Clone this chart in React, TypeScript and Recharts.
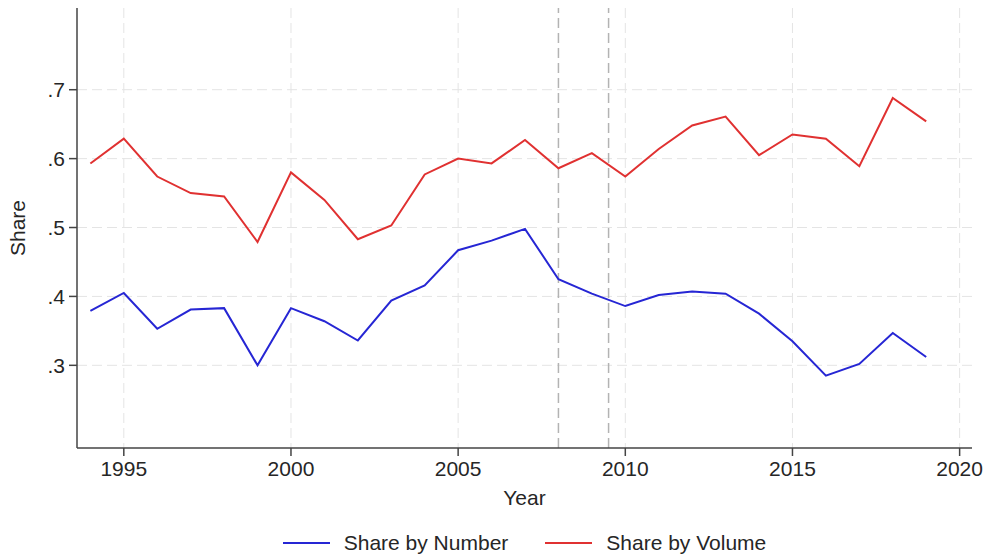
import React from 'react';
import { LineChart, Line, XAxis, YAxis, CartesianGrid, ReferenceLine, Legend } from 'recharts';

const years = [1994, 1995, 1996, 1997, 1998, 1999, 2000, 2001, 2002, 2003, 2004, 2005, 2006, 2007, 2008, 2009, 2010, 2011, 2012, 2013, 2014, 2015, 2016, 2017, 2018, 2019];
const shareByNumber = [0.379, 0.405, 0.353, 0.381, 0.383, 0.300, 0.383, 0.364, 0.336, 0.394, 0.416, 0.467, 0.481, 0.498, 0.425, 0.404, 0.386, 0.402, 0.407, 0.404, 0.375, 0.335, 0.285, 0.302, 0.347, 0.312];
const shareByVolume = [0.593, 0.629, 0.574, 0.550, 0.545, 0.479, 0.580, 0.540, 0.483, 0.503, 0.577, 0.600, 0.593, 0.627, 0.586, 0.608, 0.574, 0.614, 0.648, 0.661, 0.605, 0.635, 0.629, 0.589, 0.688, 0.654];
const xTicks = [1995, 2000, 2005, 2010, 2015, 2020];
const yTicks = [0.3, 0.4, 0.5, 0.6, 0.7];
const refYears = [2008, 2009.5];
const seriesNames = ['Share by Number', 'Share by Volume'];

const BLUE = '#2626d4';
const RED = '#e03131';
const FONT = '"Liberation Sans", Arial, Helvetica, sans-serif';
const TEXT = '#262626';
const FS = 21;

const data = years.map((y, i) => ({ year: y, number: shareByNumber[i], volume: shareByVolume[i] }));

const legendItems = [
  { name: seriesNames[0], color: BLUE },
  { name: seriesNames[1], color: RED },
];

function LegendContent() {
  return (
    <div style={{ display: 'flex', justifyContent: 'center', alignItems: 'center', fontFamily: FONT, fontSize: FS, color: TEXT, gap: 37, height: 24 }}>
      {legendItems.map((it) => (
        <div key={it.name} style={{ display: 'flex', alignItems: 'center' }}>
          <svg width={47} height={6} style={{ marginRight: 14 }}>
            <line x1={0} y1={3} x2={47} y2={3} stroke={it.color} strokeWidth={2} />
          </svg>
          <span>{it.name}</span>
        </div>
      ))}
    </div>
  );
}

export default function App() {
  return (
    <div style={{ position: 'absolute', left: 0, top: 0, width: 985, height: 557, background: '#fff' }}>
      <LineChart width={985} height={557} data={data} margin={{ top: 8, right: 13, bottom: 0, left: 0 }}>
        <CartesianGrid stroke="#e4e4e4" strokeDasharray="10 5" horizontalValues={yTicks} verticalValues={xTicks} />
        <XAxis
          dataKey="year"
          type="number"
          domain={[1993.6, 2020.37]}
          ticks={xTicks}
          allowDataOverflow
          height={109}
          tickSize={8}
          tickMargin={5}
          stroke="#444"
          strokeWidth={1.5}
          tick={{ fill: TEXT, fontSize: FS, fontFamily: FONT }}
          label={(props: any) => {
            const vb = props.viewBox;
            return (
              <text x={vb.x + vb.width / 2} y={vb.y + 57} textAnchor="middle" fill={TEXT} fontSize={FS} fontFamily={FONT}>
                Year
              </text>
            );
          }}
        />
        <YAxis
          type="number"
          domain={[0.18, 0.8186]}
          ticks={yTicks}
          allowDataOverflow
          width={77}
          tickSize={8}
          tickMargin={4}
          stroke="#444"
          strokeWidth={1.5}
          tickFormatter={(v: number) => v.toFixed(1).replace(/^0/, '')}
          tick={{ fill: TEXT, fontSize: FS, fontFamily: FONT }}
          label={(props: any) => {
            const vb = props.viewBox;
            const cy = vb.y + vb.height / 2;
            return (
              <text x={25} y={cy} transform={`rotate(-90, 25, ${cy})`} textAnchor="middle" fill={TEXT} fontSize={FS} fontFamily={FONT}>
                Share
              </text>
            );
          }}
        />
        {refYears.map((r) => (
          <ReferenceLine key={r} x={r} stroke="#b3b3b3" strokeWidth={1.5} strokeDasharray="10 5" />
        ))}
        <Line type="linear" dataKey="number" name={seriesNames[0]} stroke={BLUE} strokeWidth={2} dot={false} isAnimationActive={false} />
        <Line type="linear" dataKey="volume" name={seriesNames[1]} stroke={RED} strokeWidth={2} dot={false} isAnimationActive={false} />
        <Legend
          layout="horizontal"
          verticalAlign="middle"
          align="center"
          content={<LegendContent />}
          wrapperStyle={{ left: 77, width: 895, top: 531, height: 24 }}
        />
      </LineChart>
    </div>
  );
}
